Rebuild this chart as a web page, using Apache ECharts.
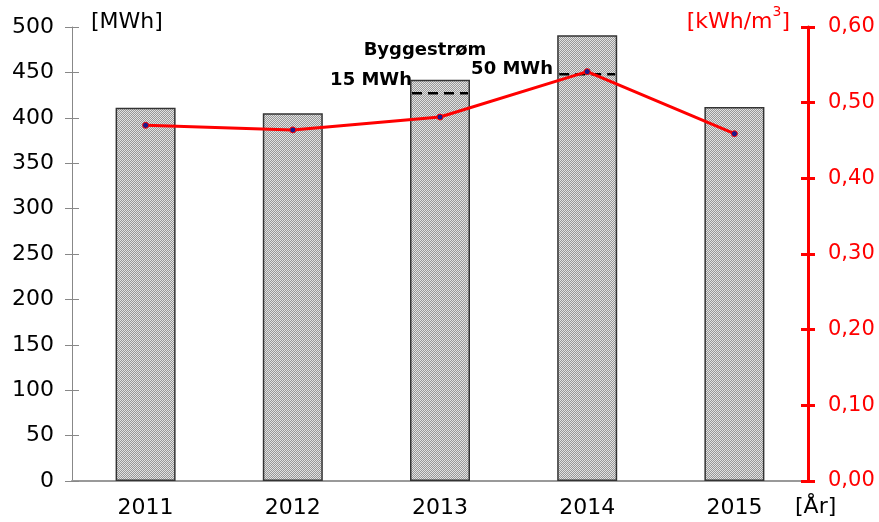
<!DOCTYPE html>
<html>
<head>
<meta charset="utf-8">
<script src="https://cdn.jsdelivr.net/npm/echarts@6/dist/echarts.min.js"></script>
<style>
  html, body { margin: 0; padding: 0; background: #fff; }
  #chart { width: 879px; height: 522px; }
</style>
</head>
<body>
<div id="chart"></div>
<script>
// data
const years = ['2011', '2012', '2013', '2014', '2015'];
const energyMWh = [411, 405, 442, 491, 412];
const specific = [0.470, 0.464, 0.481, 0.541, 0.459];
const leftTicks = [0, 50, 100, 150, 200, 250, 300, 350, 400, 450, 500];
const rightTicks = [0, 0.1, 0.2, 0.3, 0.4, 0.5, 0.6];
// byggestrøm marks: [category index, MWh level]
const buildMarks = [[2, 427], [3, 448]];

const FONT = '"DejaVu Sans", Arial, sans-serif';

// hatch pattern for the bars
const makeHatch = () => {
    const c = document.createElement('canvas');
    c.width = 4; c.height = 4;
    const ctx = c.getContext('2d');
    ctx.fillStyle = '#e2e2e2';
    ctx.fillRect(0, 0, 4, 4);
    ctx.fillStyle = '#989898';
    for (let i = 0; i < 4; i++) {
        ctx.fillRect(i, 3 - i, 1, 1);
        ctx.fillRect((i + 2) % 4, 3 - i, 1, 1);
    }
    return c;
};

const chart = echarts.init(document.getElementById('chart'));
const BAR_W = 60;

const option = {
    animation: false,
    grid: { left: 72, right: 71, top: 27, bottom: 41 },
    xAxis: {
        type: 'category',
        data: years,
        axisLine: { lineStyle: { color: '#999', width: 2 } },
        axisTick: { show: false },
        axisLabel: { color: '#000', fontSize: 22, fontFamily: FONT, margin: 16 }
    },
    yAxis: [
        {
            type: 'value', min: 0, max: 500, interval: 50,
            position: 'left',
            axisLine: { show: true, lineStyle: { color: '#888', width: 1 } },
            axisTick: { show: true, length: 7, lineStyle: { color: '#888' } },
            axisLabel: { color: '#000', fontSize: 22, fontFamily: FONT, margin: 18 },
            splitLine: { show: false }
        },
        {
            type: 'value', min: 0, max: 0.6, interval: 0.1,
            position: 'right',
            axisLine: { show: true, lineStyle: { color: '#f00', width: 3 } },
            axisTick: { show: true, length: 7, lineStyle: { color: '#f00', width: 3 } },
            axisLabel: {
                color: '#f00', fontSize: 21, fontFamily: FONT, margin: 20,
                formatter: v => v.toFixed(2).replace('.', ',')
            },
            splitLine: { show: false }
        },
        {
            // inner half of the crossing ticks on the right axis
            type: 'value', min: 0, max: 0.6, interval: 0.1,
            position: 'right',
            axisLine: { show: false },
            axisTick: { show: true, inside: true, length: 7, lineStyle: { color: '#f00', width: 3 } },
            axisLabel: { show: false },
            splitLine: { show: false }
        },
        {
            // inner half of the crossing ticks on the left axis
            type: 'value', min: 0, max: 500, interval: 50,
            position: 'left',
            axisLine: { show: false },
            axisTick: { show: true, inside: true, length: 7, lineStyle: { color: '#888' } },
            axisLabel: { show: false },
            splitLine: { show: false }
        }
    ],
    series: [
        {
            type: 'bar',
            data: energyMWh,
            barWidth: BAR_W,
            itemStyle: {
                color: { image: makeHatch(), repeat: 'repeat' },
                borderColor: '#333',
                borderWidth: 1.5
            },
            z: 2
        },
        {
            type: 'custom',
            yAxisIndex: 0,
            data: buildMarks,
            renderItem: (params, api) => {
                const p = api.coord([api.value(0), api.value(1)]);
                return {
                    type: 'line',
                    shape: { x1: p[0] - BAR_W / 2 + 2, y1: p[1], x2: p[0] + BAR_W / 2 - 2, y2: p[1] },
                    style: { stroke: '#000', lineWidth: 2.5, lineDash: [10, 6] }
                };
            },
            z: 3
        },
        {
            type: 'line',
            yAxisIndex: 1,
            data: specific,
            symbol: 'circle',
            symbolSize: 6,
            lineStyle: { color: '#f00', width: 3 },
            itemStyle: { color: '#1a1a8c', borderColor: '#f00', borderWidth: 1 },
            z: 4
        }
    ],
    graphic: [
        { type: 'text', left: 91, top: 11, style: { text: '[MWh]', fill: '#000', font: '22px ' + FONT } },
        {
            type: 'text', right: 89, top: 5,
            style: {
                text: '{a|[kWh/m}{s|3}{a|]}',
                rich: {
                    a: { fill: '#f00', font: '22px ' + FONT, lineHeight: 28, verticalAlign: 'bottom' },
                    s: { fill: '#f00', font: '14px ' + FONT, lineHeight: 14, verticalAlign: 'top' }
                }
            }
        },
        { type: 'text', left: 795, top: 496, style: { text: '[År]', fill: '#000', font: '22px ' + FONT } },
        { type: 'text', x: 425, y: 50, style: { text: 'Byggestrøm', fill: '#000', font: 'bold 18px ' + FONT, align: 'center', verticalAlign: 'middle' } },
        { type: 'text', x: 412, y: 80, style: { text: '15 MWh', fill: '#000', font: 'bold 18px ' + FONT, align: 'right', verticalAlign: 'middle' } },
        { type: 'text', x: 553, y: 69, style: { text: '50 MWh', fill: '#000', font: 'bold 18px ' + FONT, align: 'right', verticalAlign: 'middle' } }
    ]
};

chart.setOption(option);
</script>
</body>
</html>
